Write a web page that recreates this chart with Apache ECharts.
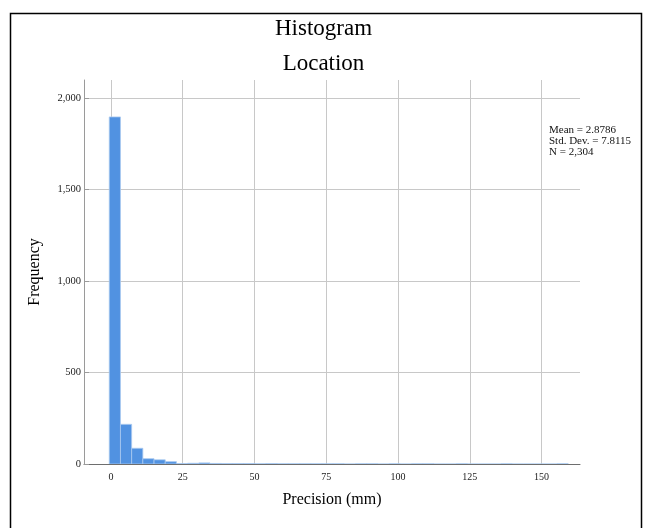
<!DOCTYPE html>
<html>
<head>
<meta charset="utf-8">
<script src="https://cdn.jsdelivr.net/npm/echarts@6/dist/echarts.min.js"></script>
<style>
html,body{margin:0;padding:0;background:#fff;}
#chart{width:647px;height:528px;}
</style>
</head>
<body>
<div id="chart"></div>
<script>
// ---- data ----
const titleLines = ['Histogram', 'Location'];
const xAxisName = 'Precision (mm)';
const yAxisName = 'Frequency';
const xTickValues = [0, 25, 50, 75, 100, 125, 150];
const yTickValues = [0, 500, 1000, 1500, 2000];
const firstBinEdge = -0.6;
const binWidth = 3.9;
const binCounts = [
  1898, 217, 86, 29, 23, 13, 2, 4, 6,
  3, 2, 2, 2, 1, 2, 1, 1, 1, 1, 1, 1, 0, 1, 1, 0, 1, 0, 1, 1,
  0, 0, 1, 0, 0, 0, 1, 0, 0, 0, 0, 1
];
const statsLines = ['Mean = 2.8786', 'Std. Dev. = 7.8115', 'N = 2,304'];

// ---- build ----
const FONT = '"Liberation Serif", "Times New Roman", serif';
const histData = binCounts.map((c, i) => [firstBinEdge + i * binWidth, firstBinEdge + (i + 1) * binWidth, c]);

const chart = echarts.init(document.getElementById('chart'), null, {renderer: 'canvas'});
chart.setOption({
  animation: false,
  backgroundColor: '#ffffff',
  graphic: [
    {type: 'rect', left: 8, top: 11, shape: {width: 631, height: 530}, style: {fill: 'none', stroke: '#000', lineWidth: 1.5}, z: 0},
    {type: 'text', left: 'center', top: 17, style: {text: titleLines[0], font: '23px ' + FONT, fill: '#000'}},
    {type: 'text', left: 'center', top: 52, style: {text: titleLines[1], font: '23px ' + FONT, fill: '#000'}},
    {type: 'text', left: 549, top: 125, style: {text: statsLines.join('\n'), font: '11px ' + FONT, lineHeight: 11, fill: '#111'}}
  ],
  grid: {left: 84, right: 67, top: 80, bottom: 64, containLabel: false},
  xAxis: {
    type: 'value',
    min: -9.4,
    max: 163.4,
    name: xAxisName,
    nameLocation: 'middle',
    nameGap: 28,
    nameTextStyle: {fontFamily: FONT, fontSize: 16, color: '#000'},
    axisLine: {show: true, onZero: false, lineStyle: {color: '#6e6e6e', width: 1}},
    axisTick: {show: false, customValues: xTickValues},
    axisLabel: {customValues: xTickValues, fontFamily: FONT, fontSize: 10, color: '#222', margin: 8},
    splitLine: {show: true, lineStyle: {color: '#c8c8c8', width: 1}}
  },
  yAxis: {
    type: 'value',
    min: 0,
    max: 2100,
    name: yAxisName,
    nameLocation: 'middle',
    nameGap: 41,
    nameRotate: 90,
    nameTextStyle: {fontFamily: FONT, fontSize: 16, color: '#000'},
    axisLine: {show: true, onZero: false, lineStyle: {color: '#9a9a9a', width: 1}},
    axisTick: {show: true, inside: true, length: 5, customValues: yTickValues, lineStyle: {color: '#9a9a9a'}},
    axisLabel: {customValues: yTickValues, fontFamily: FONT, fontSize: 10.5, color: '#222', margin: 3,
      formatter: v => v.toLocaleString('en-US')},
    splitLine: {show: true, lineStyle: {color: '#c8c8c8', width: 1}}
  },
  series: [{
    type: 'custom',
    data: histData,
    clip: true,
    renderItem: function (params, api) {
      const p0 = api.coord([api.value(0), 0]);
      const p1 = api.coord([api.value(1), api.value(2)]);
      return {
        type: 'rect',
        shape: {x: p0[0], y: p1[1], width: p1[0] - p0[0], height: p0[1] - p1[1]},
        style: {fill: '#5192e1', stroke: '#a9c9f0', lineWidth: 0.8}
      };
    },
    encode: {x: [0, 1], y: 2}
  }]
});
</script>
</body>
</html>
